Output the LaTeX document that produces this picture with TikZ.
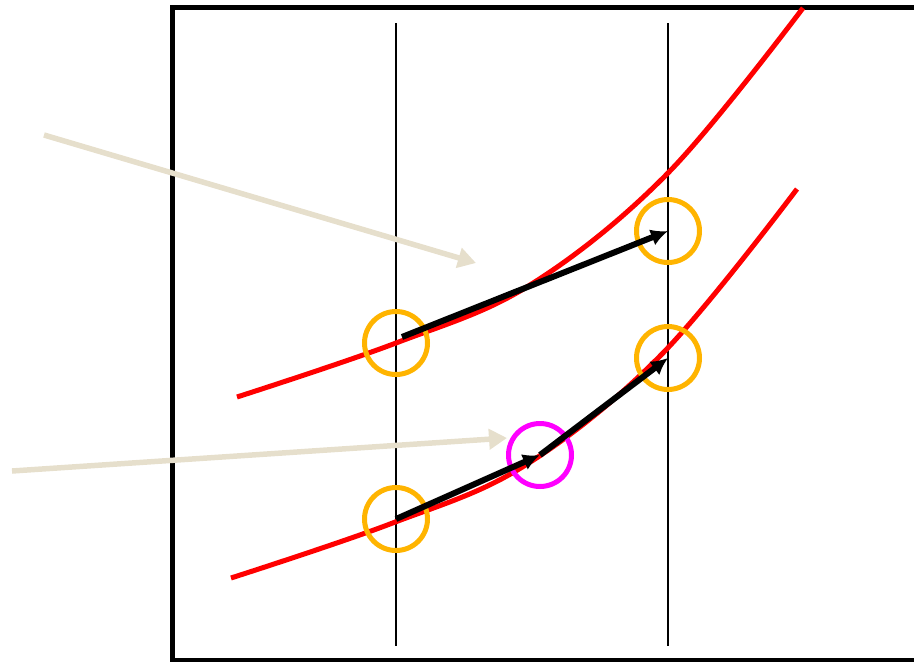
\documentclass[tikz,border=0pt]{standalone}
\usetikzlibrary{arrows.meta}
\definecolor{ringorange}{RGB}{255,180,0}
\definecolor{ringmag}{RGB}{255,0,255}
\definecolor{beige}{RGB}{230,223,204}
\begin{document}
\begin{tikzpicture}[x=1pt,y=-1pt,
  ring/.style={circle,draw=ringorange,line width=5pt,minimum size=63pt,inner sep=0pt},
  magring/.style={circle,draw=ringmag,line width=5pt,minimum size=63pt,inner sep=0pt},
  vec/.style={line width=6pt,-{Latex[length=17pt,width=17pt]}},
  hint/.style={draw=beige,line width=5.5pt,-{Triangle[length=18pt,width=20pt]}},
  curve/.style={red,line width=5pt},
  guide/.style={line width=2pt}]
\useasboundingbox (0,0) rectangle (914,662);
\draw[line width=5pt] (172,7) rectangle (930,660);
% guide lines
\coordinate (g1t) at (396,23); \coordinate (g1b) at (396,646);
\coordinate (g2t) at (668,23); \coordinate (g2b) at (668,646);
\draw[guide] (g1t) -- (g1b);
\draw[guide] (g2t) -- (g2b);
% curves
\draw[curve] plot[smooth,tension=0.6] coordinates {(237,397) (396,343) (530,285) (668,173) (803,8)};
\begin{scope}[shift={(-6,181)}]
\draw[curve] plot[smooth,tension=0.6] coordinates {(237,397) (396,343) (530,285) (668,173) (803,8)};
\end{scope}
% rings
\node[ring] (a1) at (396,343) {};
\node[ring] (a2) at (668,231) {};
\node[ring] (b1) at (396,519) {};
\node[ring] (b2) at (668,358) {};
\node[magring] (m) at (540,455) {};
% vectors
\coordinate (a1s) at (402,337);
\draw[vec] (a1s) -- (a2.center);
\draw[vec] (b1.center) -- (m.center);
\draw[vec] (m.center) -- (b2.center);
% pointers
\coordinate (p1s) at (44,135); \coordinate (p1e) at (476,263);
\coordinate (p2s) at (12,471); \coordinate (p2e) at (507,438);
\draw[hint] (p1s) -- (p1e);
\draw[hint] (p2s) -- (p2e);
\end{tikzpicture}
\end{document}
